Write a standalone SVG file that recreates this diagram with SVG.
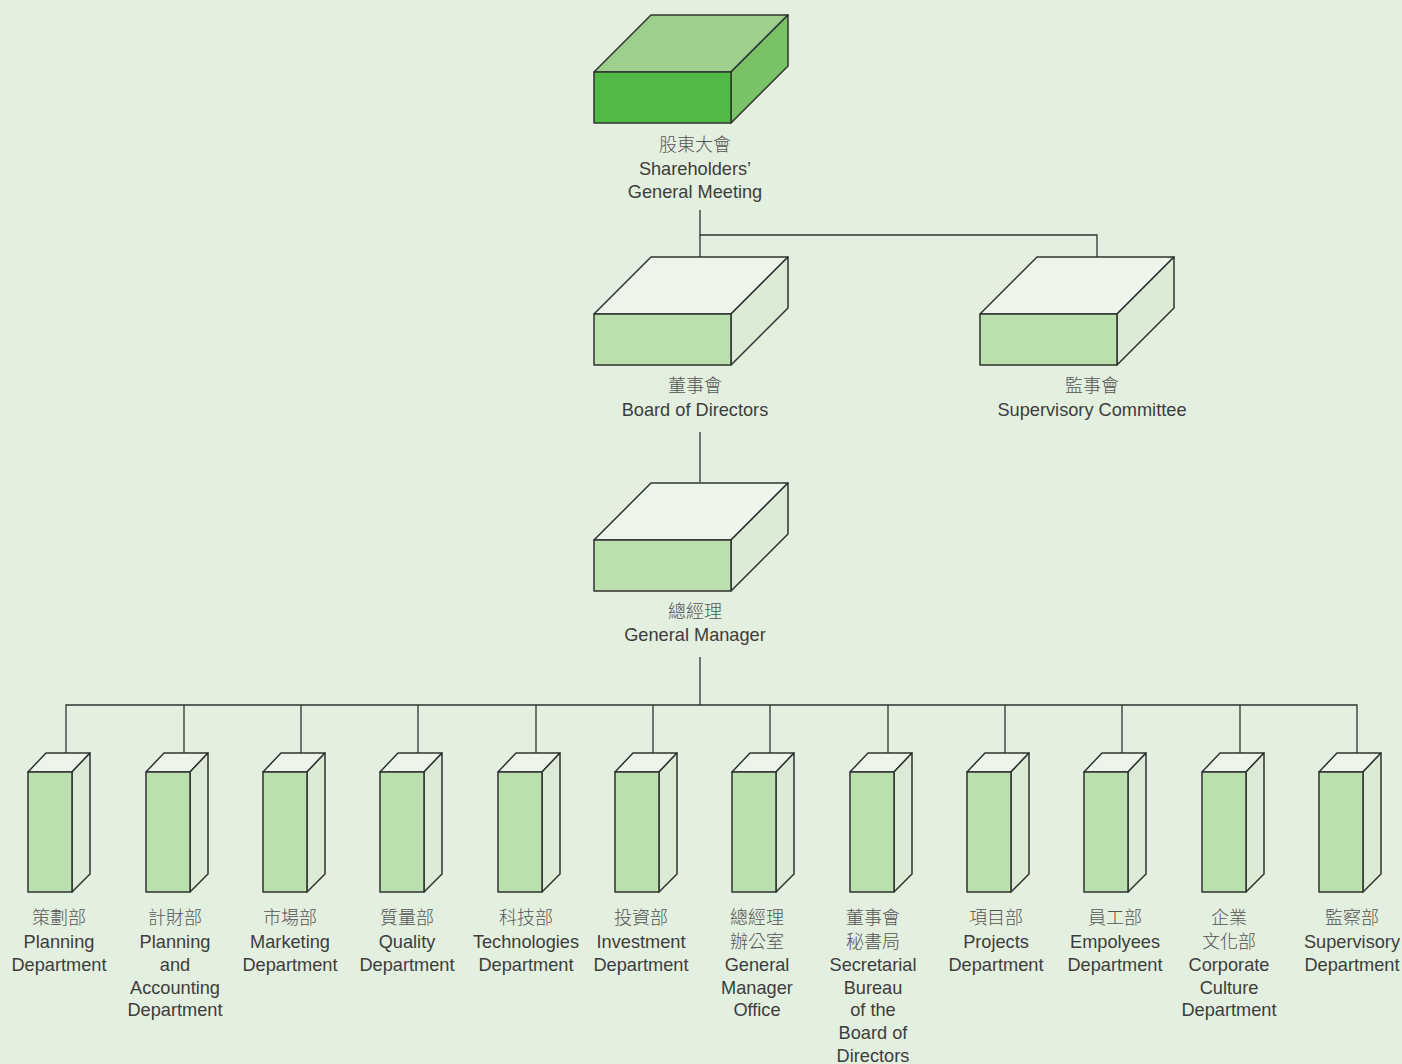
<svg xmlns="http://www.w3.org/2000/svg" width="1402" height="1064" viewBox="0 0 1402 1064">
<style>
.bg{fill:#e3efdf}
.fr{fill:#bcdfae;stroke:#2f3330;stroke-width:1.5;stroke-linejoin:round}
.tp{fill:#edf5ea;stroke:#2f3330;stroke-width:1.5;stroke-linejoin:round}
.sd{fill:#dcebd6;stroke:#2f3330;stroke-width:1.5;stroke-linejoin:round}
.fr1{fill:#52b947;stroke:#2f3330;stroke-width:1.5;stroke-linejoin:round}
.tp1{fill:#9dd08c;stroke:#2f3330;stroke-width:1.5;stroke-linejoin:round}
.sd1{fill:#79c266;stroke:#2f3330;stroke-width:1.5;stroke-linejoin:round}
.ln{fill:none;stroke:#2f3330;stroke-width:1.3}
text{font-family:"Liberation Sans","Noto Sans CJK TC",sans-serif;font-size:18.2px;fill:#3d3d3d;text-anchor:middle}
text.zh{font-family:"Noto Sans CJK TC",sans-serif;font-weight:300;font-size:18px;fill:#555}
</style>
<rect class="bg" x="0" y="0" width="1402" height="1064"/>
<g id="connectors">
<path class="ln" d="M700 210V235H1097V257"/>
<path class="ln" d="M700 235V257"/>
<path class="ln" d="M700 432V482"/>
<path class="ln" d="M700 657V705"/>
<path class="ln" d="M66 754V705H1357V754"/>
<path class="ln" d="M184 705V754M301 705V754M418 705V754M536 705V754M653 705V754M770 705V754M888 705V754M1005 705V754M1122 705V754M1240 705V754"/>
</g>
<g id="shareholders">
<polygon class="tp1" points="594,72 651,15 788,15 731,72"/>
<polygon class="sd1" points="731,72 788,15 788,66 731,123"/>
<rect class="fr1" x="594" y="72" width="137" height="51"/>
<text class="zh" x="695" y="151">股東大會</text>
<text x="695" y="175">Shareholders’</text>
<text x="695" y="198">General Meeting</text>
</g>
<g id="board">
<polygon class="tp" points="594,314 651,257 788,257 731,314"/>
<polygon class="sd" points="731,314 788,257 788,308 731,365"/>
<rect class="fr" x="594" y="314" width="137" height="51"/>
<text class="zh" x="695" y="392">董事會</text>
<text x="695" y="416">Board of Directors</text>
</g>
<g id="supervisory">
<polygon class="tp" points="980,314 1037,257 1174,257 1117,314"/>
<polygon class="sd" points="1117,314 1174,257 1174,308 1117,365"/>
<rect class="fr" x="980" y="314" width="137" height="51"/>
<text class="zh" x="1092" y="392">監事會</text>
<text x="1092" y="416">Supervisory Committee</text>
</g>
<g id="gm">
<polygon class="tp" points="594,540 651,483 788,483 731,540"/>
<polygon class="sd" points="731,540 788,483 788,534 731,591"/>
<rect class="fr" x="594" y="540" width="137" height="51"/>
<text class="zh" x="695" y="618">總經理</text>
<text x="695" y="641">General Manager</text>
</g>
<g id="d1">
<polygon class="tp" points="28,772 46,753 90,753 72,772"/>
<polygon class="sd" points="72,772 90,753 90,874 72,892"/>
<rect class="fr" x="28" y="772" width="44" height="120"/>
<text class="zh" x="59" y="924">策劃部</text><text x="59" y="948">Planning</text><text x="59" y="971">Department</text>
</g>
<g id="d2">
<polygon class="tp" points="146,772 164,753 208,753 190,772"/>
<polygon class="sd" points="190,772 208,753 208,874 190,892"/>
<rect class="fr" x="146" y="772" width="44" height="120"/>
<text class="zh" x="175" y="924">計財部</text><text x="175" y="948">Planning</text><text x="175" y="971">and</text><text x="175" y="994">Accounting</text><text x="175" y="1016">Department</text>
</g>
<g id="d3">
<polygon class="tp" points="263,772 281,753 325,753 307,772"/>
<polygon class="sd" points="307,772 325,753 325,874 307,892"/>
<rect class="fr" x="263" y="772" width="44" height="120"/>
<text class="zh" x="290" y="924">市場部</text><text x="290" y="948">Marketing</text><text x="290" y="971">Department</text>
</g>
<g id="d4">
<polygon class="tp" points="380,772 398,753 442,753 424,772"/>
<polygon class="sd" points="424,772 442,753 442,874 424,892"/>
<rect class="fr" x="380" y="772" width="44" height="120"/>
<text class="zh" x="407" y="924">質量部</text><text x="407" y="948">Quality</text><text x="407" y="971">Department</text>
</g>
<g id="d5">
<polygon class="tp" points="498,772 516,753 560,753 542,772"/>
<polygon class="sd" points="542,772 560,753 560,874 542,892"/>
<rect class="fr" x="498" y="772" width="44" height="120"/>
<text class="zh" x="526" y="924">科技部</text><text x="526" y="948">Technologies</text><text x="526" y="971">Department</text>
</g>
<g id="d6">
<polygon class="tp" points="615,772 633,753 677,753 659,772"/>
<polygon class="sd" points="659,772 677,753 677,874 659,892"/>
<rect class="fr" x="615" y="772" width="44" height="120"/>
<text class="zh" x="641" y="924">投資部</text><text x="641" y="948">Investment</text><text x="641" y="971">Department</text>
</g>
<g id="d7">
<polygon class="tp" points="732,772 750,753 794,753 776,772"/>
<polygon class="sd" points="776,772 794,753 794,874 776,892"/>
<rect class="fr" x="732" y="772" width="44" height="120"/>
<text class="zh" x="757" y="924">總經理</text><text class="zh" x="757" y="948">辦公室</text><text x="757" y="971">General</text><text x="757" y="994">Manager</text><text x="757" y="1016">Office</text>
</g>
<g id="d8">
<polygon class="tp" points="850,772 868,753 912,753 894,772"/>
<polygon class="sd" points="894,772 912,753 912,874 894,892"/>
<rect class="fr" x="850" y="772" width="44" height="120"/>
<text class="zh" x="873" y="924">董事會</text><text class="zh" x="873" y="948">秘書局</text><text x="873" y="971">Secretarial</text><text x="873" y="994">Bureau</text><text x="873" y="1016">of the</text><text x="873" y="1039">Board of</text><text x="873" y="1062">Directors</text>
</g>
<g id="d9">
<polygon class="tp" points="967,772 985,753 1029,753 1011,772"/>
<polygon class="sd" points="1011,772 1029,753 1029,874 1011,892"/>
<rect class="fr" x="967" y="772" width="44" height="120"/>
<text class="zh" x="996" y="924">項目部</text><text x="996" y="948">Projects</text><text x="996" y="971">Department</text>
</g>
<g id="d10">
<polygon class="tp" points="1084,772 1102,753 1146,753 1128,772"/>
<polygon class="sd" points="1128,772 1146,753 1146,874 1128,892"/>
<rect class="fr" x="1084" y="772" width="44" height="120"/>
<text class="zh" x="1115" y="924">員工部</text><text x="1115" y="948">Empolyees</text><text x="1115" y="971">Department</text>
</g>
<g id="d11">
<polygon class="tp" points="1202,772 1220,753 1264,753 1246,772"/>
<polygon class="sd" points="1246,772 1264,753 1264,874 1246,892"/>
<rect class="fr" x="1202" y="772" width="44" height="120"/>
<text class="zh" x="1229" y="924">企業</text><text class="zh" x="1229" y="948">文化部</text><text x="1229" y="971">Corporate</text><text x="1229" y="994">Culture</text><text x="1229" y="1016">Department</text>
</g>
<g id="d12">
<polygon class="tp" points="1319,772 1337,753 1381,753 1363,772"/>
<polygon class="sd" points="1363,772 1381,753 1381,874 1363,892"/>
<rect class="fr" x="1319" y="772" width="44" height="120"/>
<text class="zh" x="1352" y="924">監察部</text><text x="1352" y="948">Supervisory</text><text x="1352" y="971">Department</text>
</g>
</svg>
